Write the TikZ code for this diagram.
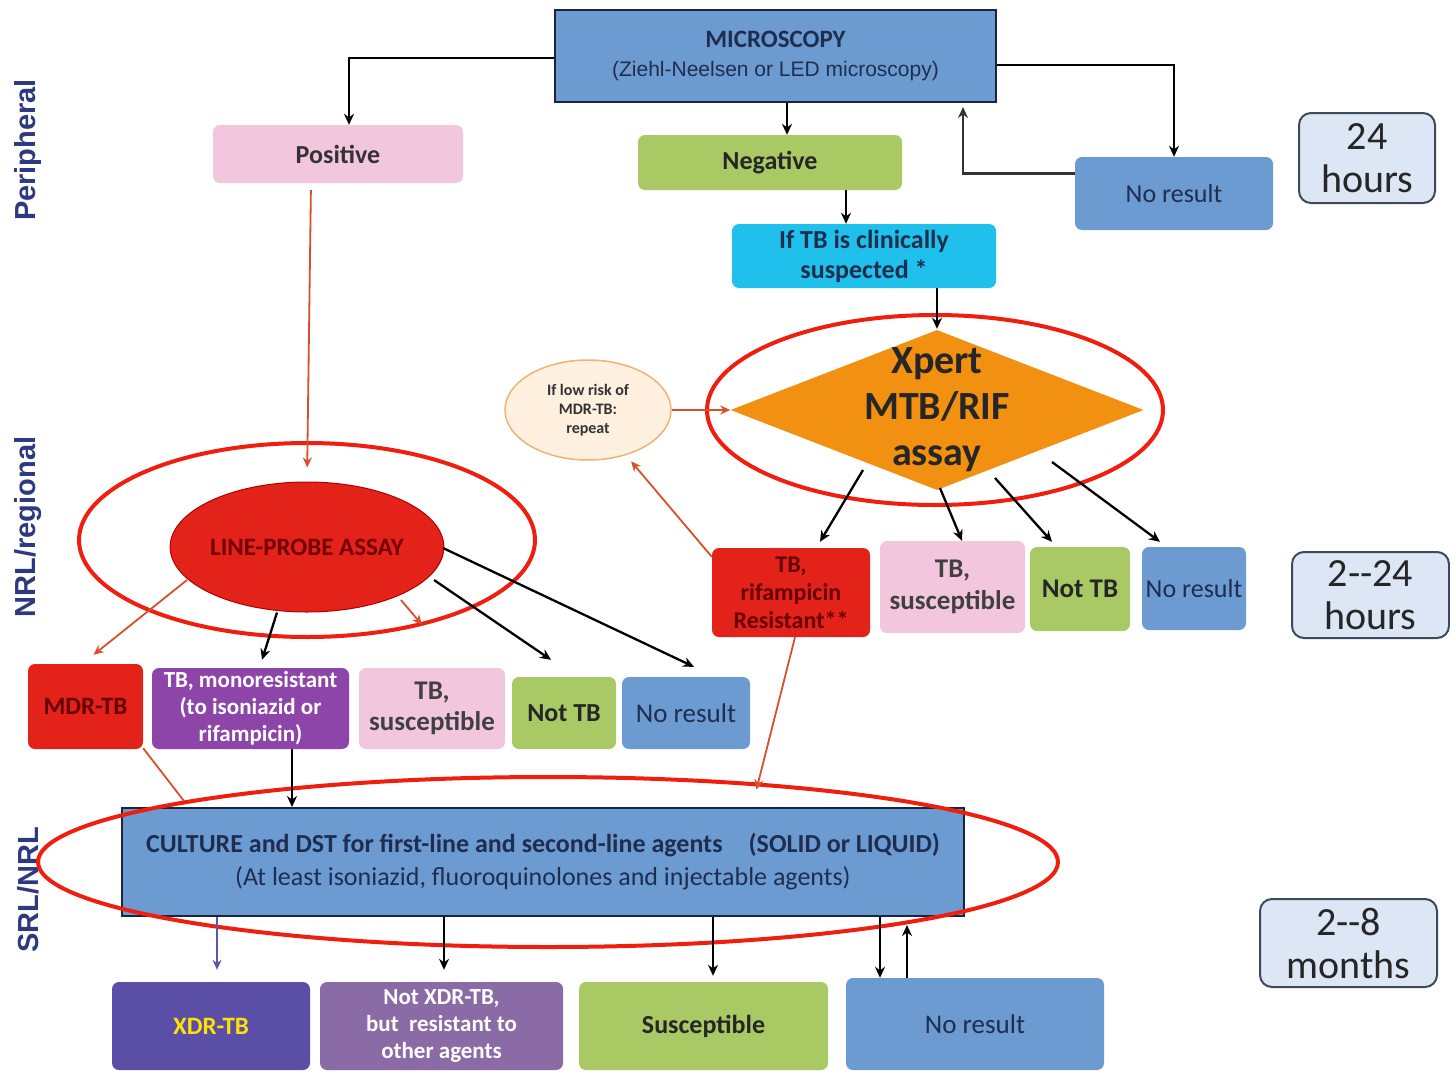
\documentclass[tikz,border=0pt]{standalone}
\usepackage{fontspec}
\setmainfont{Carlito}
\newfontfamily\arialf{Liberation Sans}
\usetikzlibrary{shapes.geometric,arrows.meta,calc}
\definecolor{cblue}{HTML}{6C9BD2}
\definecolor{cpink}{HTML}{F2C6DC}
\definecolor{cgreen}{HTML}{A8C964}
\definecolor{cred}{HTML}{E32219}
\definecolor{cpurple}{HTML}{8E45A9}
\definecolor{ccyan}{HTML}{1FC0EB}
\definecolor{corange}{HTML}{F29111}
\definecolor{cindigo}{HTML}{5A4EA6}
\definecolor{cmauve}{HTML}{8A6BA6}
\definecolor{clight}{HTML}{DCE6F4}
\definecolor{cborder}{HTML}{3C4A5C}
\definecolor{cnavy}{HTML}{1F2D4F}
\definecolor{cring}{HTML}{F01E0F}
\definecolor{cbrown}{HTML}{D8502A}
\definecolor{clabel}{HTML}{2E3A80}
\newcommand{\fs}[1]{\fontsize{#1}{#1}\selectfont}
\tikzset{
  box/.style={rounded corners=7pt, inner sep=0pt, align=center, font=\bfseries\fs{26}},
  timebox/.style={rounded corners=12pt, draw=cborder, line width=2pt, fill=clight, inner sep=0pt, align=center, font=\fs{40}, text=black!85},
  arr/.style={draw=black, line width=2.3pt, -{Stealth[length=11pt,width=10pt]}},
  redarr/.style={draw=cbrown, line width=1.8pt, -{Stealth[length=10pt,width=9pt]}},
  ring/.style={draw=cring, line width=4pt},
  side/.style={rotate=90, font=\arialf\bfseries\fs{29}, text=clabel},
}
\begin{document}
\begin{tikzpicture}[x=1pt,y=-1pt]
\useasboundingbox[fill=white] (0,0) rectangle (1450,1073);

% side labels
\node[side] (lp) at (28,150) {Peripheral};
\node[side] (ln) at (28,527) {NRL/regional};
\node[side] (ls) at (28,890) {SRL/NRL};

% top level
\node[draw=cnavy!80!black, line width=2pt, fill=cblue, minimum width=441pt, minimum height=92pt, inner sep=0pt, align=center, text=cnavy, font=\fs{25}] (micro) at (775.5,56)
  {{\bfseries MICROSCOPY}\\[4pt]{\arialf\fs{21}(Ziehl-Neelsen or LED microscopy)}};
\node[box, fill=cpink, minimum width=250pt, minimum height=58pt, text=black!80] (pos) at (338,154) {Positive};
\node[box, fill=cgreen, minimum width=264pt, minimum height=55pt, text=black!85] (neg) at (770,162.5) {Negative};
\node[box, fill=cblue, minimum width=198pt, minimum height=73pt, text=cnavy, font=\fs{26}] (nr1) at (1174,193.5) {No result};
\node[timebox, minimum width=136pt, minimum height=90pt] (h24) at (1367,158) {24\\[3pt]hours};
\node[box, fill=ccyan, minimum width=264pt, minimum height=64pt, text=cnavy] (iftb) at (864,256) {If TB is clinically\\[4pt]suspected *};

% Xpert
\node[diamond, fill=corange, minimum width=413pt, minimum height=160pt, inner sep=0pt] (xpert) at (937,410) {};
\node[align=center, font=\bfseries\fs{40}, text=black!85, inner sep=0pt] (xpertT) at (937,410) {Xpert\\[6pt]MTB/RIF\\[6pt]assay};
\node[ellipse, draw=orange!60!brown!60, line width=1.5pt, fill=orange!12, minimum width=166pt, minimum height=100pt, inner sep=0pt, align=center, font=\bfseries\fs{16}, text=black!80] (low) at (588,410) {If low risk of\\[3pt]MDR-TB:\\[3pt]repeat};

% LPA
\node[ellipse, fill=cred, draw=red!70!black, line width=1pt, minimum width=270pt, minimum height=130pt, inner sep=0pt, font=\bfseries\fs{25}, text=red!45!black] (lpa) at (307,547) {LINE-PROBE ASSAY};

% Xpert results
\node[box, fill=cred, minimum width=158pt, minimum height=89pt, text=red!40!black, font=\bfseries\fs{24}] (rifr) at (791,592.5) {TB,\\[4pt]rifampicin\\[4pt]Resistant**};
\node[box, fill=cpink, minimum width=145pt, minimum height=92pt, text=black!75, font=\bfseries\fs{27}] (sus1) at (952.5,587) {TB,\\[5pt]susceptible};
\node[box, fill=cgreen, minimum width=100pt, minimum height=84pt, text=black!85, font=\bfseries\fs{27}] (ntb1) at (1080,589) {Not TB};
\node[box, fill=cblue, minimum width=104pt, minimum height=83pt, text=cnavy, font=\fs{26}] (nr2) at (1194,588.5) {No result};
\node[timebox, minimum width=157pt, minimum height=86pt] (h224) at (1370.5,595) {2-{}-24\\[3pt]hours};

% LPA results
\node[box, fill=cred, minimum width=115pt, minimum height=85pt, text=red!40!black, font=\bfseries\fs{25}] (mdr) at (85.5,706.5) {MDR-TB};
\node[box, fill=cpurple, minimum width=197pt, minimum height=81pt, text=white, font=\bfseries\fs{23}] (mono) at (250.5,708.5) {TB, monoresistant\\[4pt](to isoniazid or\\[4pt]rifampicin)};
\node[box, fill=cpink, minimum width=146pt, minimum height=81pt, text=black!75, font=\bfseries\fs{27}] (sus2) at (432,708.5) {TB,\\[4pt]susceptible};
\node[box, fill=cgreen, minimum width=104pt, minimum height=72pt, text=black!85, font=\bfseries\fs{26}] (ntb2) at (564,713) {Not TB};
\node[box, fill=cblue, minimum width=128pt, minimum height=72pt, text=cnavy, font=\fs{27}] (nr3) at (686,713) {No result};

% culture
\node[draw=cnavy!80!black, line width=2pt, fill=cblue, minimum width=842pt, minimum height=108pt, inner sep=0pt, align=center, text=cnavy, font=\fs{26}] (cult) at (543,862)
  {{\bfseries CULTURE and DST for first-line and second-line agents\quad (SOLID or LIQUID)}\\[7pt](At least isoniazid, fluoroquinolones and injectable agents)};
\node[timebox, minimum width=177pt, minimum height=88pt] (h28) at (1348.5,943) {2-{}-8\\[3pt]months};

% bottom row
\node[box, fill=cindigo, minimum width=198pt, minimum height=88pt, text=yellow!85!orange, font=\bfseries\fs{25}] (xdr) at (211,1026) {XDR-TB};
\node[box, fill=cmauve, minimum width=243pt, minimum height=88pt, text=white, font=\bfseries\fs{23}] (nxdr) at (441.5,1026) {Not XDR-TB,\\[4pt]but~ resistant to\\[4pt]other agents};
\node[box, fill=cgreen, minimum width=249pt, minimum height=88pt, text=black!85, font=\bfseries\fs{26}] (sus3) at (703.5,1026) {Susceptible};
\node[box, fill=cblue, minimum width=258pt, minimum height=92pt, text=cnavy, font=\fs{27}] (nr4) at (975,1024) {No result};

% red rings
\draw[ring] (935,410) ellipse [x radius=228pt, y radius=95pt];
\draw[ring] (307,540) ellipse [x radius=228pt, y radius=97pt];
\draw[ring] (548,862) ellipse [x radius=510pt, y radius=85pt];

% connectors top
\draw[arr] ([yshift=-2pt]micro.west) -| ([xshift=11pt]pos.north);
\draw[arr] ([xshift=11.5pt]micro.south) -- ([xshift=17pt]neg.north);
\draw[arr] ([yshift=-9pt]micro.east) -| (nr1.north);
\draw[draw=black!80, line width=2.3pt, -{Stealth[length=11pt,width=10pt]}] ([yshift=20pt]nr1.west) -| ([xshift=187.5pt,yshift=-4pt]micro.south);
\draw[arr] ([xshift=76pt]neg.south) -- ([xshift=-18pt]iftb.north);
\draw[arr] ([xshift=73pt]iftb.south) -- ([yshift=1pt]xpert.north);
\draw[redarr, shorten <=7pt, shorten >=14pt] ([xshift=-27pt]pos.south) -- (lpa.north);
\draw[redarr] (low.east) -- (xpert.west);
\draw[redarr, shorten >=8pt] ([yshift=-9pt]rifr.north west) -- (low.-50);
\draw[redarr, shorten >=18pt] ([xshift=4pt]rifr.south) -- ([xshift=209pt]cult.north);

% Xpert results
\draw[arr] ([shift={(-74pt,-60pt)}]xpert.center) -- ([xshift=29pt,yshift=6pt]rifr.north);
\draw[arr] ([shift={(3pt,-78pt)}]xpert.center) -- ([xshift=9.5pt]sus1.north);
\draw[arr] ([shift={(58pt,-68pt)}]xpert.center) -- ([xshift=-28pt,yshift=5pt]ntb1.north);
\draw[arr] ([shift={(115pt,-52pt)}]xpert.center) -- ([xshift=-34pt,yshift=5pt]nr2.north);

% LPA results
\draw[redarr] ([shift={(-120pt,-33pt)}]lpa.center) -- ([xshift=8pt,yshift=9pt]mdr.north);
\draw[arr] ([xshift=-30pt]lpa.south) -- ([xshift=11.5pt,yshift=8pt]mono.north);
\draw[redarr] ([shift={(94pt,-53pt)}]lpa.center) -- ([xshift=-10pt,yshift=43pt]sus2.north);
\draw[arr] ([shift={(127pt,-33pt)}]lpa.center) -- ([xshift=-13pt,yshift=17pt]ntb2.north);
\draw[arr] ([shift={(136pt,-1pt)}]lpa.center) -- ([xshift=8pt,yshift=10pt]nr3.north);

% to culture
\draw[draw=cbrown, line width=1.8pt] ([yshift=1pt]mdr.south east) -- ([xshift=63pt,yshift=6pt]cult.north west);
\draw[arr] ([xshift=41.5pt]mono.south) -- ([xshift=-251pt]cult.north);

% culture results
\draw[draw=gray!70!blue, line width=2pt, -{Stealth[length=10pt,width=9pt]}] ([xshift=-326pt]cult.south) -- ([xshift=6pt,yshift=12pt]xdr.north);
\draw[arr] ([xshift=-99pt]cult.south) -- ([xshift=2.5pt,yshift=12pt]nxdr.north);
\draw[arr] ([xshift=170pt]cult.south) -- ([xshift=9.5pt,yshift=6pt]sus3.north);
\draw[arr] ([xshift=337pt]cult.south) -- ([xshift=-95pt]nr4.north);
\draw[arr] ([xshift=-68pt]nr4.north) -- ([xshift=364pt,yshift=-8pt]cult.south);
\end{tikzpicture}
\end{document}
